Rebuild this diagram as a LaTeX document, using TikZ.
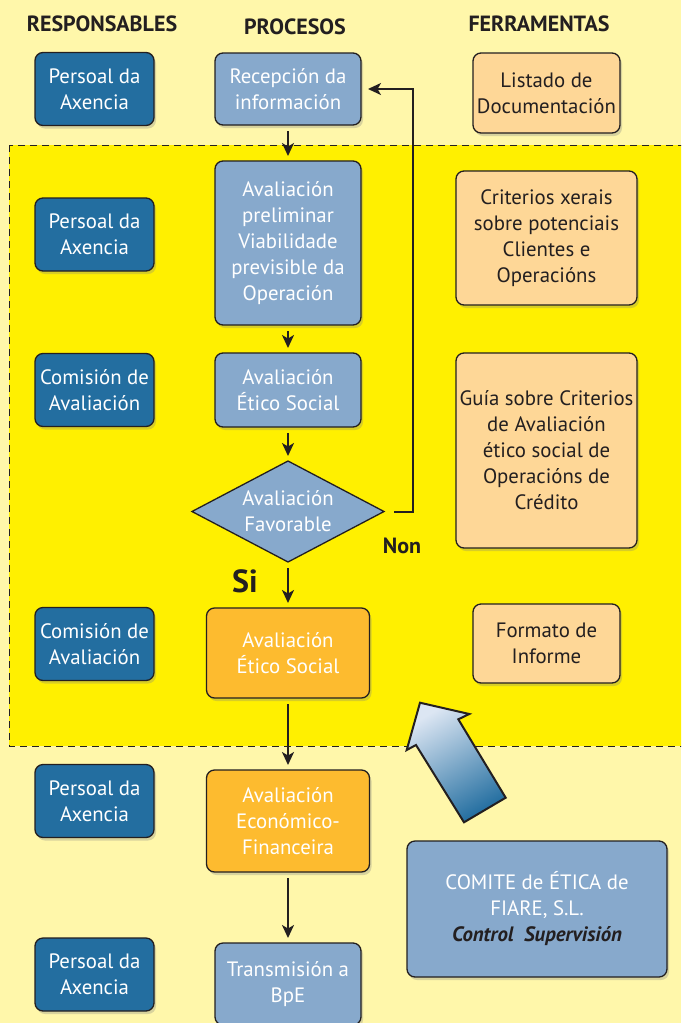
\documentclass[tikz,border=0pt]{standalone}
\usepackage{fontspec}
\setmainfont{PT Sans}
\usetikzlibrary{positioning, shapes.geometric, arrows.meta, shadows}

\definecolor{fondo}{HTML}{FFF7AA}
\definecolor{zona}{HTML}{FFF000}
\definecolor{azulescuro}{HTML}{236EA0}
\definecolor{azulclaro}{HTML}{87A9CC}
\definecolor{azulbranco}{HTML}{DCE6F3}
\definecolor{laranxa}{HTML}{FDBB2F}
\definecolor{crema}{HTML}{FED797}
\definecolor{trazo}{HTML}{231F20}

\begin{document}
\begin{tikzpicture}[x=1pt, y=1pt, node distance=30pt,
    >={Stealth[length=13pt, width=12pt, inset=3.5pt]},
    caixa/.style={draw=trazo, line width=1.3pt, rounded corners=8pt, align=center, inner sep=2pt, outer sep=0pt,
        font=\fontsize{20.8}{26}\selectfont, drop shadow={shadow xshift=2pt, shadow yshift=-3pt, opacity=0.3}},
    resp/.style={caixa, fill=azulescuro, text=white, minimum width=119pt, minimum height=73pt},
    proc/.style={caixa, fill=azulclaro, text=white, minimum width=146pt},
    aval/.style={caixa, fill=laranxa, text=white, minimum width=163pt},
    ferr/.style={caixa, fill=crema, text=trazo},
    titulo/.style={font=\fontsize{22}{26}\selectfont\bfseries, text=trazo},
    etiqueta/.style={font=\fontsize{22}{26}\selectfont\bfseries, text=trazo},
    frecha/.style={->, draw=trazo, line width=2pt, shorten <=6pt, shorten >=5pt}]

    \useasboundingbox (0,0) rectangle (681,-1023);
    \clip (0,0) rectangle (681,-1023);
    \fill[fondo] (0,0) rectangle (681,-1023);
    % zona de avaliacion
    \draw[fill=zona, draw=trazo, line width=1pt, dash pattern=on 7pt off 5pt] (9,-145) rectangle (700,-746);

    \node[titulo] (t_resp) at (102,-24) {RESPONSABLES};
    \node[titulo] (t_proc) at (295,-27) {PROCESOS};
    \node[titulo] (t_ferr) at (539,-24) {FERRAMENTAS};

    % procesos
    \node[proc, minimum height=72pt] (rec) at (288,-89) {Recepción da\\información};
    \node[proc, minimum height=164pt, below=36pt of rec] (prel) {Avaliación\\preliminar\\Viabilidade\\previsible da\\Operación};
    \node[proc, minimum height=74pt, below=28pt of prel] (etico) {Avaliación\\Ético Social};
    \node[draw=trazo, diamond, aspect=1.9, fill=azulclaro, text=white, line width=1.3pt, inner sep=-4pt, outer sep=0pt,
        minimum width=192pt, minimum height=101pt, align=center, font=\fontsize{20.8}{26}\selectfont,
        below=34pt of etico] (choice) {Avaliación\\Favorable};
    \node[aval, minimum height=90pt, below=46pt of choice] (etico_2) {Avaliación\\Ético Social};
    \node[aval, minimum height=102pt, below=72pt of etico_2] (econ) {Avaliación\\Económico-\\Financeira};
    \node[proc, minimum height=82pt, below=71pt of econ] (trans) {Transmisión a\\BpE};

    % responsables
    \node[resp] (resp_1) at (94.5,-89) {Persoal da\\Axencia};
    \node[resp] (resp_2) at (94.5,-234.5) {Persoal da\\Axencia};
    \node[resp] (resp_3) at (94.5,-390) {Comisión de\\Avaliación};
    \node[resp] (resp_4) at (94.5,-644) {Comisión de\\Avaliación};
    \node[resp] (resp_5) at (94.5,-801) {Persoal da\\Axencia};
    \node[resp] (resp_6) at (94.5,-974.5) {Persoal da\\Axencia};

    % ferramentas
    \node[ferr, minimum width=147pt, minimum height=80pt] (ferr_1) at (546.5,-93) {Listado de\\Documentación};
    \node[ferr, minimum width=181pt, minimum height=134pt] (ferr_2) at (546.5,-238) {Criterios xerais\\sobre potenciais\\Clientes e\\Operacións};
    \node[ferr, minimum width=181pt, minimum height=195pt] (ferr_3) at (546.5,-450.5) {Guía sobre Criterios\\de Avaliación\\ético social de\\Operacións de\\Crédito};
    \node[ferr, minimum width=147pt, minimum height=79pt] (ferr_4) at (546.5,-643.5) {Formato de\\Informe};
    \node[caixa, fill=azulclaro, text=white, minimum width=260pt, minimum height=136pt] (comite) at (537,-909)
        {COMITE de ÉTICA de\\FIARE, S.L.\\\textcolor{trazo}{\textbf{\textit{Control\ \ Supervisión}}}};

    % dot
    \coordinate (dot1) at (413,-300);

    \draw[frecha] (rec) -- (prel);
    \draw[frecha] (prel) -- (etico);
    \draw[frecha] (etico) -- (choice);
    \draw[frecha] (choice) -- (etico_2);
    \draw[frecha] (etico_2) -- (econ);
    \draw[frecha] (econ) -- (trans);
    \draw[frecha, shorten <=10pt, shorten >=7pt] (choice.east) -- (choice.east-|dot1) -- (dot1|-rec.east) -> (rec.east);

    \node[etiqueta] (non) at (402,-546) {Non};
    \node[etiqueta, font=\fontsize{32}{34}\selectfont\bfseries] (si) at (245,-581) {Si};

    % frecha de control
    \shadedraw[draw=trazo, line width=2pt, line join=miter, top color=azulbranco, bottom color=azulescuro, shading angle=30]
        (420,-702.7) -- (469.3,-714) -- (458.3,-719.3) -- (505.7,-797.7) -- (464,-822.3) -- (416,-745) -- (406.7,-750) -- cycle;
\end{tikzpicture}
\end{document}
